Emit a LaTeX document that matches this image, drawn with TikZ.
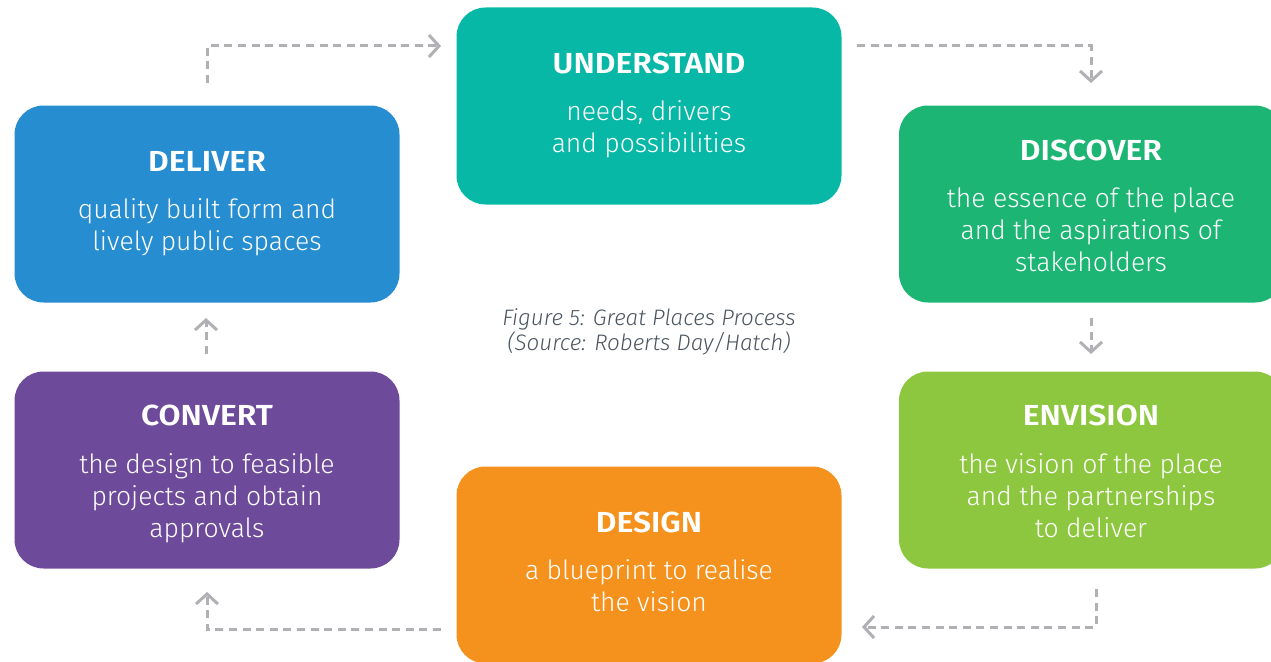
\documentclass[tikz,border=0pt]{standalone}
\usepackage{fontspec}
\setmainfont{Fira Sans}
\newfontfamily\titlefont[FakeStretch=1.1]{Fira Sans SemiBold}
\newfontfamily\bodyfont{Fira Sans Light}
\newfontfamily\capfont{Fira Sans Light Italic}
\usetikzlibrary{arrows.meta}
\definecolor{cunderstand}{HTML}{08B8A6}
\definecolor{cdiscover}{HTML}{1CB574}
\definecolor{cenvision}{HTML}{8DC73F}
\definecolor{cdesign}{HTML}{F5921E}
\definecolor{cconvert}{HTML}{6E4A9B}
\definecolor{cdeliver}{HTML}{268DD1}
\definecolor{cline}{HTML}{B1B0B5}
\definecolor{ccaption}{HTML}{4A5560}
\tikzset{
  x=1pt,y=-1pt,
  card/.style={rounded corners=29pt,minimum width=385pt,minimum height=197pt,inner sep=0pt,outer sep=0pt},
  cardtitle/.style={text=white,font=\fontsize{29}{32}\titlefont,inner sep=0pt,anchor=center},
  cardbody/.style={text=white,font=\fontsize{26.5}{32}\bodyfont,align=center,inner sep=0pt,anchor=center},
  flow/.style={draw=cline,line width=3pt,dash pattern=on 8pt off 5.6pt},
  flowhead/.style={draw=cline,line width=3pt,solid,-{Straight Barb[length=10pt,width=22pt,line width=3pt]}},
  caption/.style={text=ccaption,font=\fontsize{22.4}{25}\capfont,align=center,inner sep=0pt}
}
\begin{document}
\begin{tikzpicture}
\useasboundingbox (0,0) rectangle (1271,661);
\clip (0,0) rectangle (1271,661);
\node[card,fill=cunderstand] (understand) at (649,106) {};
\node[card,fill=cdiscover] (discover) at (1091.5,204) {};
\node[card,fill=cenvision] (envision) at (1091.5,470) {};
\node[card,fill=cdesign] (design) at (649,565) {};
\node[card,fill=cconvert] (convert) at (207,470) {};
\node[card,fill=cdeliver] (deliver) at (207,204) {};

\node[cardtitle] (t1) at (649,63) {UNDERSTAND};
\node[cardbody] (b1) at (649,129) {needs, drivers\\and possibilities};
\node[cardtitle] (t2) at (1091,150) {DISCOVER};
\node[cardbody] (b2) at (1091,230) {the essence of the place\\and the aspirations of\\stakeholders};
\node[cardtitle] (t3) at (1091,415) {ENVISION};
\node[cardbody] (b3) at (1091,496) {the vision of the place\\and the partnerships\\to deliver};
\node[cardtitle] (t4) at (649,522) {DESIGN};
\node[cardbody] (b4) at (649,586) {a blueprint to realise\\the vision};
\node[cardtitle] (t5) at (207,415) {CONVERT};
\node[cardbody] (b5) at (207,498) {the design to feasible\\projects and obtain\\approvals};
\node[cardtitle] (t6) at (207,161) {DELIVER};
\node[cardbody] (b6) at (207,227) {quality built form and\\lively public spaces};
\node[caption] (cap) at (649,332) {Figure 5: Great Places Process\\(Source: Roberts Day/Hatch)};

\coordinate (a1s) at (207,83); \coordinate (a1c) at (207,46); \coordinate (a1e) at (441,46);
\coordinate (a2s) at (857,46); \coordinate (a2c) at (1091,46); \coordinate (a2e) at (1091,83);
\coordinate (a3s) at (1091,318); \coordinate (a3e) at (1091,354);
\coordinate (a4s) at (1096,589); \coordinate (a4c) at (1096,627); \coordinate (a4e) at (862,627);
\coordinate (a5s) at (441,629); \coordinate (a5c) at (207,629); \coordinate (a5e) at (207,592);
\coordinate (a6s) at (206,354); \coordinate (a6e) at (206,318);

\draw[flow,shorten >=3pt] (a1s) -- (a1c) -- (a1e);
\draw[flow,shorten >=3pt] (a2s) -- (a2c) -- (a2e);
\draw[flow,shorten >=3pt] (a3s) -- (a3e);
\draw[flow,shorten >=3pt] (a4s) -- (a4c) -- (a4e);
\draw[flow,shorten >=3pt] (a5s) -- (a5c) -- (a5e);
\draw[flow,shorten >=3pt] (a6s) -- (a6e);
\draw[flowhead] ([xshift=-2pt]a1e) -- (a1e);
\draw[flowhead] ([yshift=2pt]a2e) -- (a2e);
\draw[flowhead] ([yshift=2pt]a3e) -- (a3e);
\draw[flowhead] ([xshift=2pt]a4e) -- (a4e);
\draw[flowhead] ([yshift=-2pt]a5e) -- (a5e);
\draw[flowhead] ([yshift=-2pt]a6e) -- (a6e);
\end{tikzpicture}
\end{document}
